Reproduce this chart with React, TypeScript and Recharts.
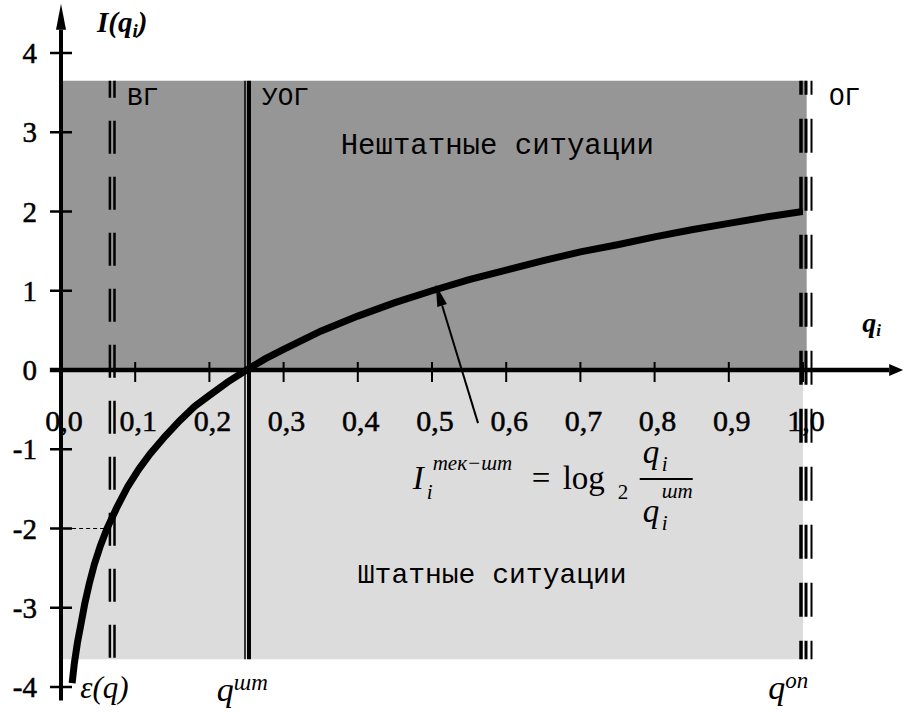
import React from "react";
import {
  LineChart,
  Line,
  XAxis,
  YAxis,
  ReferenceArea,
  ReferenceLine,
  ReferenceDot,
} from "recharts";

// curve I(q)
const Q_VALUES = [
  0.015, 0.018, 0.022, 0.027, 0.032, 0.038, 0.045, 0.053, 0.062, 0.075, 0.09,
  0.105, 0.12, 0.14, 0.16, 0.18, 0.2, 0.225, 0.25, 0.275, 0.3, 0.35, 0.4, 0.45,
  0.5, 0.55, 0.6, 0.65, 0.7, 0.75, 0.8, 0.85, 0.9, 0.95, 1.0,
];
const I_VALUES = [
  -3.95, -3.7, -3.45, -3.2, -2.95, -2.7, -2.45, -2.22, -2.0, -1.74, -1.47,
  -1.25, -1.06, -0.84, -0.64, -0.46, -0.32, -0.15, 0, 0.14, 0.26, 0.49, 0.68,
  0.85, 1.0, 1.14, 1.26, 1.38, 1.49, 1.58, 1.68, 1.77, 1.85, 1.93, 2.0,
];

const X_TICKS = [0, 0.1, 0.2, 0.3, 0.4, 0.5, 0.6, 0.7, 0.8, 0.9, 1.0];
const X_LABELS = ["0,0", "0,1", "0,2", "0,3", "0,4", "0,5", "0,6", "0,7", "0,8", "0,9", "1,0"];
const Y_TICKS = [-4, -3, -2, -1, 0, 1, 2, 3, 4];
const Y_LABELS = ["-4", "-3", "-2", "-1", "0", "1", "2", "3", "4"];

// boundaries
const Q_VG = 0.069;
const Q_SHT = 0.25;
const Q_OP = 1.0;
const BAND_TOP = 3.65;
const BAND_BOTTOM = -3.65;

const data = Q_VALUES.map((q, k) => ({ q, i: I_VALUES[k] }));

const SERIF = "Liberation Serif, Times New Roman, serif";
const MONO = "Liberation Mono, Courier New, monospace";

const arrow = (w: number, head: number, half: number) => (p: any) => {
  const dx = p.x2 - p.x1;
  const dy = p.y2 - p.y1;
  const len = Math.hypot(dx, dy) || 1;
  const ux = dx / len;
  const uy = dy / len;
  const bx = p.x2 - ux * head;
  const by = p.y2 - uy * head;
  const px = -uy;
  const py = ux;
  return (
    <g>
      <line x1={p.x1} y1={p.y1} x2={bx} y2={by} stroke="#000" strokeWidth={w} />
      <polygon
        points={`${p.x2},${p.y2} ${bx + px * half},${by + py * half} ${bx - px * half},${by - py * half}`}
        fill="#000"
      />
    </g>
  );
};

const multiLine =
  (offsets: number[], widths: number[], dash?: string, dashOffset = 0) =>
  (p: any) => (
    <g>
      {offsets.map((o, k) => (
        <line
          key={k}
          x1={p.x1 + o}
          x2={p.x2 + o}
          y1={p.y1}
          y2={p.y2}
          stroke="#000"
          strokeWidth={widths[k]}
          strokeDasharray={dash}
          strokeDashoffset={dashOffset}
        />
      ))}
    </g>
  );

const tickText = { fontFamily: SERIF, fontSize: 30, fill: "#000", stroke: "#000", strokeWidth: 0.5 };

const xTick = (label: string) => (p: any) => (
  <g>
    <line x1={p.cx} x2={p.cx} y1={p.cy - 8} y2={p.cy + 12} stroke="#000" strokeWidth={2} />
    <text x={p.cx + 3} y={p.cy + 61} textAnchor="middle" style={tickText}>
      {label}
    </text>
  </g>
);

const yTick = (label: string) => (p: any) => (
  <g>
    <line x1={p.cx - 11} x2={p.cx + 11} y1={p.cy} y2={p.cy} stroke="#000" strokeWidth={2.5} />
    <text x={p.cx - 24} y={p.cy + 10} textAnchor="end" style={{ ...tickText, fontSize: 29 }}>
      {label}
    </text>
  </g>
);

const label =
  (text: string, size: number, family: string, extra: any = {}) =>
  (p: any) => (
    <text x={p.cx} y={p.cy} style={{ fontFamily: family, fontSize: size, fill: "#000", ...extra }}>
      {text}
    </text>
  );

const qWithIndex = (sup: string) => (p: any) => (
  <g style={{ fontFamily: SERIF, fontStyle: "italic", fill: "#000" }}>
    <text x={p.cx} y={p.cy} fontSize={34}>q</text>
    <text x={p.cx + 17} y={p.cy - 11} fontSize={23}>{sup}</text>
  </g>
);

const formula = (p: any) => {
  const x = p.cx;
  const y = p.cy;
  return (
    <g style={{ fontFamily: SERIF, fill: "#000" }}>
      <text x={x} y={y} fontSize={33} fontStyle="italic">I</text>
      <text x={x + 14} y={y + 10} fontSize={21} fontStyle="italic">i</text>
      <text x={x + 20} y={y - 19} fontSize={21} fontStyle="italic">тек−шт</text>
      <text x={x + 119} y={y} fontSize={33}>=</text>
      <text x={x + 150} y={y} fontSize={33}>log</text>
      <text x={x + 205} y={y + 10} fontSize={21}>2</text>
      <line x1={x + 227} x2={x + 280} y1={y - 10} y2={y - 10} stroke="#000" strokeWidth={2} />
      <text x={x + 230} y={y - 26} fontSize={33} fontStyle="italic">q</text>
      <text x={x + 249} y={y - 18} fontSize={21} fontStyle="italic">i</text>
      <text x={x + 230} y={y + 33} fontSize={33} fontStyle="italic">q</text>
      <text x={x + 249} y={y + 41} fontSize={21} fontStyle="italic">i</text>
      <text x={x + 249} y={y + 9} fontSize={21} fontStyle="italic">шт</text>
    </g>
  );
};

const axisTitle = (main: string) => (p: any) => (
  <text
    x={p.cx}
    y={p.cy}
    style={{ fontFamily: SERIF, fontSize: 29, fontWeight: "bold", fontStyle: "italic", fill: "#000" }}
  >
    {main}
    <tspan>(</tspan>
    <tspan>q</tspan>
    <tspan fontSize={19} dy={5}>i</tspan>
    <tspan dy={-5}>)</tspan>
  </text>
);

const qiTitle = (p: any) => (
  <text
    x={p.cx}
    y={p.cy}
    style={{ fontFamily: SERIF, fontSize: 28, fontWeight: "bold", fontStyle: "italic", fill: "#000" }}
  >
    q<tspan fontSize={17} dy={4}>i</tspan>
  </text>
);

export default function App() {
  return (
    <div style={{ position: "absolute", left: 0, top: 0, background: "#fff" }}>
      <LineChart
        width={904}
        height={714}
        data={data}
        margin={{ top: 53, right: 101, bottom: 27, left: 61 }}
      >
        <XAxis dataKey="q" type="number" domain={[0, 1]} hide allowDataOverflow />
        <YAxis type="number" domain={[-4, 4]} hide allowDataOverflow />

        <ReferenceArea x1={0} x2={1.005} y1={0} y2={BAND_TOP} fill="#969696" fillOpacity={1} ifOverflow="visible" />
        <ReferenceArea x1={0} x2={Q_OP} y1={BAND_BOTTOM} y2={0} fill="#dcdcdc" fillOpacity={1} ifOverflow="visible" />

        {X_TICKS.map((v, k) =>
          k === 0 ? (
            <ReferenceDot
              key={"xl" + k}
              x={v}
              y={0}
              ifOverflow="visible"
              shape={(p: any) => (
                <text x={p.cx + 3} y={p.cy + 61} textAnchor="middle" style={tickText}>
                  {X_LABELS[k]}
                </text>
              )}
            />
          ) : (
            <ReferenceDot key={"xt" + k} x={v} y={0} ifOverflow="visible" shape={xTick(X_LABELS[k])} />
          )
        )}
        {Y_TICKS.map((v, k) => (
          <ReferenceDot key={"yt" + k} x={0} y={v} ifOverflow="visible" shape={yTick(Y_LABELS[k])} />
        ))}

        <ReferenceLine
          segment={[{ x: 0.015, y: -2 }, { x: Q_VG, y: -2 }]}
          stroke="#000"
          strokeWidth={1}
          strokeDasharray="4 3"
          ifOverflow="visible"
        />

        <ReferenceLine
          segment={[{ x: Q_VG, y: BAND_TOP }, { x: Q_VG, y: BAND_BOTTOM }]}
          shape={multiLine([-2.3, 2.3], [2.5, 2.5], "33 23", 16)}
          ifOverflow="visible"
        />
        <ReferenceLine
          segment={[{ x: Q_SHT, y: BAND_TOP }, { x: Q_SHT, y: BAND_BOTTOM }]}
          shape={multiLine([-1.5, 2.5], [1.5, 4], undefined)}
          ifOverflow="visible"
        />
        <ReferenceLine
          segment={[{ x: Q_OP, y: BAND_TOP }, { x: Q_OP, y: BAND_BOTTOM }]}
          shape={multiLine([-2, 3, 8.5], [3.5, 3, 2], "34 24", 20)}
          ifOverflow="visible"
        />

        {/* axes with arrows */}
        <ReferenceLine
          segment={[{ x: -0.015, y: 0 }, { x: 1.135, y: 0 }]}
          shape={arrow(4.5, 14, 6)}
          ifOverflow="visible"
        />
        <ReferenceLine
          segment={[{ x: 0, y: -4.17 }, { x: 0, y: 4.62 }]}
          shape={arrow(4, 26, 5)}
          ifOverflow="visible"
        />

        {/* pointer to the curve */}
        <ReferenceLine
          segment={[{ x: 0.562, y: -0.67 }, { x: 0.505, y: 1.08 }]}
          shape={arrow(2, 22, 5)}
          ifOverflow="visible"
        />

        <Line
          dataKey="i"
          type="linear"
          stroke="#000"
          strokeWidth={7}
          dot={false}
          isAnimationActive={false}
        />

        <ReferenceDot x={0.089} y={3.34} ifOverflow="visible" shape={label("ВГ", 26, MONO)} />
        <ReferenceDot x={0.271} y={3.34} ifOverflow="visible" shape={label("УОГ", 26, MONO)} />
        <ReferenceDot x={1.035} y={3.34} ifOverflow="visible" shape={label("ОГ", 26, MONO)} />
        <ReferenceDot x={0.377} y={2.73} ifOverflow="visible" shape={label("Нештатные ситуации", 29, MONO)} />
        <ReferenceDot x={0.4} y={-2.69} ifOverflow="visible" shape={label("Штатные ситуации", 28, MONO)} />

        <ReferenceDot x={0.0485} y={4.27} ifOverflow="visible" shape={axisTitle("I")} />
        <ReferenceDot x={1.08} y={0.48} ifOverflow="visible" shape={qiTitle} />

        <ReferenceDot x={0.474} y={-1.5} ifOverflow="visible" shape={formula} />

        <ReferenceDot
          x={0.026}
          y={-4.14}
          ifOverflow="visible"
          shape={label("ε(q)", 31, SERIF, { fontStyle: "italic" })}
        />
        <ReferenceDot x={0.21} y={-4.18} ifOverflow="visible" shape={qWithIndex("шт")} />
        <ReferenceDot x={0.953} y={-4.15} ifOverflow="visible" shape={qWithIndex("оп")} />
      </LineChart>
    </div>
  );
}
